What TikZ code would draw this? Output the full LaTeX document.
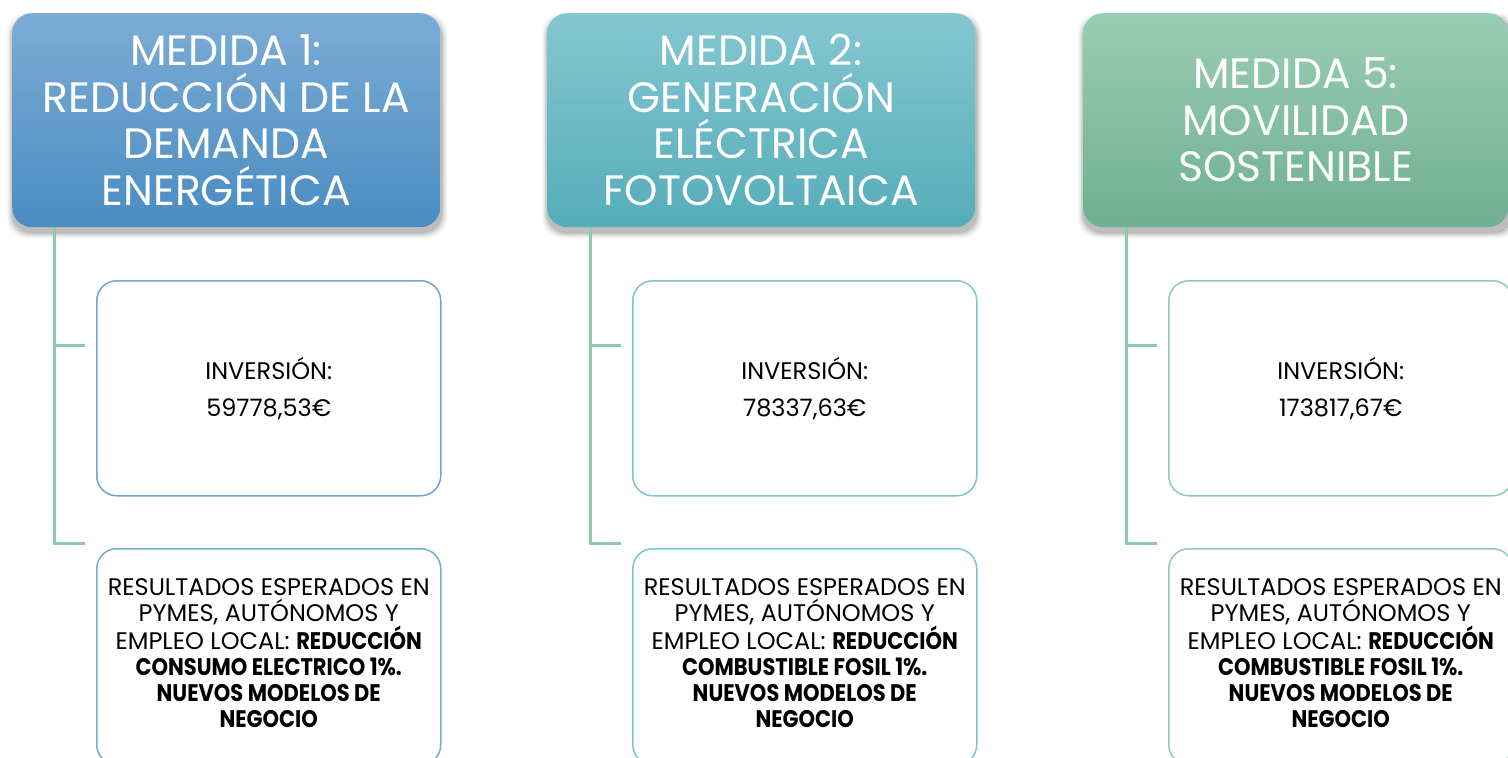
\documentclass[tikz,border=0pt]{standalone}
\usepackage{fontspec}
\setmainfont{Poppins}[BoldFeatures={FakeStretch=0.875}]
\definecolor{hOneT}{HTML}{7BACD5}
\definecolor{hOneB}{HTML}{4A8CC1}
\definecolor{hTwoT}{HTML}{84C7D0}
\definecolor{hTwoB}{HTML}{55ADB9}
\definecolor{hThrT}{HTML}{99CDB4}
\definecolor{hThrB}{HTML}{70AF93}
\definecolor{bdOne}{HTML}{6FA3D2}
\definecolor{bdOneB}{HTML}{72AFD0}
\definecolor{bdTwo}{HTML}{7CC6CE}
\definecolor{bdThr}{HTML}{8FCBAE}
\definecolor{conn}{HTML}{8DCAAA}
\tikzset{
  hdr/.style={rounded corners=20pt, minimum width=428pt, minimum height=214pt,
    anchor=north west, align=center, text=white, inner sep=0pt,
    font={\fontsize{42.5}{46.5}\selectfont}},
  infobox/.style={rounded corners=20pt, minimum width=344pt, minimum height=215pt,
    anchor=north west, align=center, text=black, fill=white, line width=1.5pt, inner sep=0pt,
    font={\fontsize{24}{26}\selectfont}},
  resbox/.style={infobox, minimum height=216pt},
  restext/.style={align=center, text=black, inner sep=0pt, font={\fontsize{24}{26}\selectfont}},
  link/.style={draw=conn, line width=3pt},
}
\usetikzlibrary{calc}
\newcommand{\shadowbox}[2]{%
  \foreach \s/\o in {6/0.04,4.5/0.06,3/0.08,1.5/0.1}{%
    \fill[black, opacity=\o, rounded corners=20pt]
      ($(#1)+(-\s+1,-\s+6)$) rectangle ($(#2)+(\s+1,\s+5)$);}}
\begin{document}
\begin{tikzpicture}[x=1pt,y=-1pt]
\useasboundingbox (0,0) rectangle (1508,758);
\clip (0,0) rectangle (1508,758);
\fill[white] (0,0) rectangle (1508,758);
% shadows
\shadowbox{12,13}{440,227}
\shadowbox{547,13}{975,227}
\shadowbox{1083,13}{1511,227}
% column 1
\coordinate (v1) at (54,225);
\coordinate (b1a) at (85,345);
\coordinate (b1b) at (85,543);
\draw[link] (v1) |- (b1a);
\draw[link] (v1) |- (b1b);
\node[hdr, top color=hOneT, bottom color=hOneB] (h1) at (12,13)
  {MEDIDA 1:\\REDUCCIÓN DE LA\\DEMANDA\\ENERGÉTICA};
\node[infobox, draw=bdOne] (i1) at (96,280) {INVERSIÓN:\\[11pt]59778,53€};
\node[resbox, draw=bdOneB] (r1) at (96,548) {};
\node[restext] (r1t) at ([yshift=3.5pt]r1.center)
  {RESULTADOS ESPERADOS EN\\PYMES, AUTÓNOMOS Y\\EMPLEO LOCAL: \textbf{REDUCCIÓN}\\\textbf{CONSUMO ELECTRICO 1\%.}\\\textbf{NUEVOS MODELOS DE}\\\textbf{NEGOCIO}};
% column 2
\coordinate (v2) at (590,225);
\coordinate (b2a) at (621,345);
\coordinate (b2b) at (621,543);
\draw[link] (v2) |- (b2a);
\draw[link] (v2) |- (b2b);
\node[hdr, top color=hTwoT, bottom color=hTwoB] (h2) at (547,13)
  {MEDIDA 2:\\GENERACIÓN\\ELÉCTRICA\\FOTOVOLTAICA};
\node[infobox, draw=bdTwo] (i2) at (632,280) {INVERSIÓN:\\[11pt]78337,63€};
\node[resbox, draw=bdTwo] (r2) at (632,548) {};
\node[restext] (r2t) at ([yshift=3.5pt]r2.center)
  {RESULTADOS ESPERADOS EN\\PYMES, AUTÓNOMOS Y\\EMPLEO LOCAL: \textbf{REDUCCIÓN}\\\textbf{COMBUSTIBLE FOSIL 1\%.}\\\textbf{NUEVOS MODELOS DE}\\\textbf{NEGOCIO}};
% column 3
\coordinate (v3) at (1126,225);
\coordinate (b3a) at (1157,345);
\coordinate (b3b) at (1157,543);
\draw[link] (v3) |- (b3a);
\draw[link] (v3) |- (b3b);
\node[hdr, top color=hThrT, bottom color=hThrB, minimum width=425pt] (h3) at (1083,13)
  {MEDIDA 5:\\MOVILIDAD\\SOSTENIBLE};
\node[infobox, draw=bdThr] (i3) at (1168,280) {INVERSIÓN:\\[11pt]173817,67€};
\node[resbox, draw=bdThr] (r3) at (1168,548) {};
\node[restext] (r3t) at ([yshift=3.5pt]r3.center)
  {RESULTADOS ESPERADOS EN\\PYMES, AUTÓNOMOS Y\\EMPLEO LOCAL: \textbf{REDUCCIÓN}\\\textbf{COMBUSTIBLE FOSIL 1\%.}\\\textbf{NUEVOS MODELOS DE}\\\textbf{NEGOCIO}};
\end{tikzpicture}
\end{document}
